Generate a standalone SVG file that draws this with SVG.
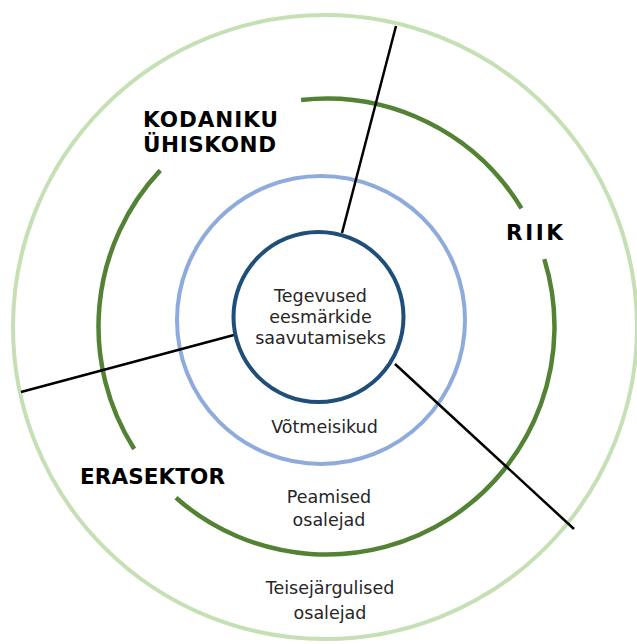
<svg xmlns="http://www.w3.org/2000/svg" width="637" height="644" viewBox="0 0 637 644">
<style>
.ring{fill:none;stroke-width:4}
.outer{stroke:#c5e0b4}
.main{stroke:#548235;stroke-width:4.5}
.key{stroke:#8faadc}
.core{stroke:#1f4e79;fill:#fff}
.div{stroke:#000;stroke-width:2.5;fill:none}
.lbl{font-family:"DejaVu Sans",Verdana,sans-serif;font-weight:bold;font-size:21.5px;fill:#000}
.txt{font-family:"DejaVu Sans",Verdana,sans-serif;font-size:17.5px;fill:#262626;text-anchor:middle}
</style>
<rect width="637" height="644" fill="#fff"/>
<g id="secondary">
<circle class="ring outer" cx="325" cy="327" r="312"/>
<text class="txt" x="330" y="594">Teisejärgulised</text>
<text class="txt" x="330" y="619">osalejad</text>
</g>
<g id="primary">
<path class="ring main" d="M301.1,99.9 A228,228 0 0 1 521.5,208.4"/>
<path class="ring main" d="M544.3,259.1 A228,228 0 0 1 176.0,497.8"/>
<path class="ring main" d="M134.2,449.0 A228,228 0 0 1 160.3,170.4"/>
<text class="txt" x="329" y="503">Peamised</text>
<text class="txt" x="329" y="526">osalejad</text>
</g>
<g id="key">
<circle class="ring key" cx="321" cy="320" r="144"/>
<text class="txt" x="324.5" y="433">Võtmeisikud</text>
</g>
<g id="connectors">
<line class="div" x1="342" y1="233" x2="396" y2="26"/>
<line class="div" x1="234" y1="335" x2="21" y2="392"/>
<line class="div" x1="395" y1="364" x2="574" y2="529"/>
</g>
<g id="core">
<circle class="ring core" cx="318.5" cy="317" r="85"/>
<text class="txt" x="320.5" y="302">Tegevused</text>
<text class="txt" x="320.5" y="323">eesmärkide</text>
<text class="txt" x="320.5" y="344">saavutamiseks</text>
</g>
<g id="kodaniku">
<text class="lbl" x="143" y="127" textLength="135" lengthAdjust="spacing">KODANIKU</text>
<text class="lbl" x="143" y="152" textLength="133" lengthAdjust="spacing">ÜHISKOND</text>
</g>
<g id="riik">
<text class="lbl" x="506" y="240" textLength="57" lengthAdjust="spacing">RIIK</text>
</g>
<g id="erasektor">
<text class="lbl" x="80" y="484" textLength="145" lengthAdjust="spacing">ERASEKTOR</text>
</g>
</svg>
